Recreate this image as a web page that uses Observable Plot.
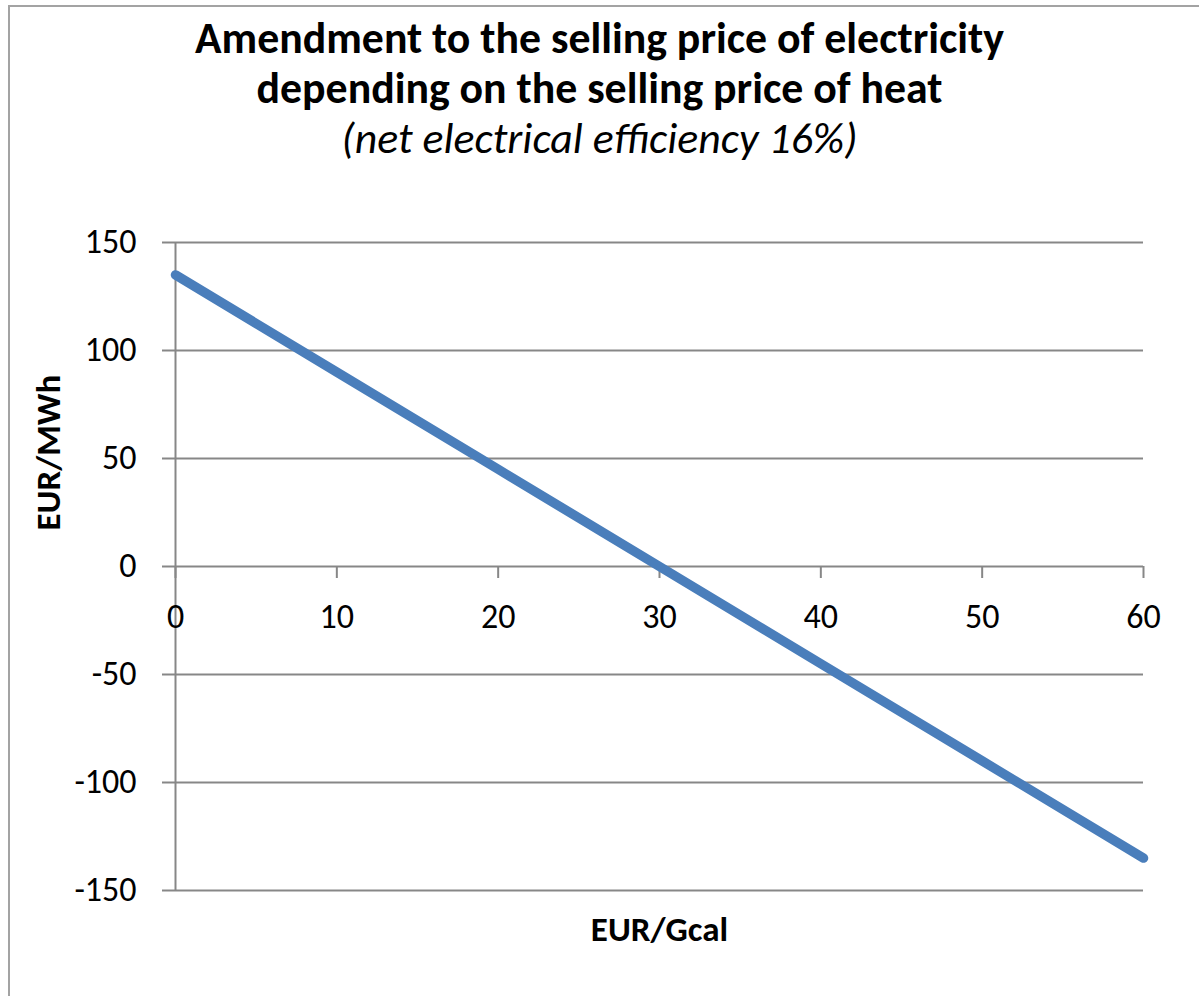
<!DOCTYPE html>
<html><head><meta charset="utf-8">
<script src="https://cdn.jsdelivr.net/npm/d3@7"></script>
<script src="https://cdn.jsdelivr.net/npm/@observablehq/plot@0.6"></script>
<style>
html,body{margin:0;padding:0;background:#fff;overflow:hidden;width:1199px;height:996px}
#wrap{position:relative;width:1199px;height:996px;overflow:hidden}
#border{position:absolute;left:8px;top:5px;width:1400px;height:1200px;border:2px solid #a3a3a3;box-sizing:border-box}
#title{position:absolute;left:0;top:0;width:1199px;height:200px;text-align:center;font-family:Carlito,Lato,"Open Sans",sans-serif;padding-top:13px;box-sizing:border-box;color:#000}
.t{font-size:43.8px;line-height:50px;font-weight:bold;white-space:nowrap}
.s{font-style:italic;font-weight:normal}
#chart{position:absolute;left:0;top:200px}
</style></head>
<body>
<div id="wrap">
<div id="border"></div>
<div id="title">
<div class="t">Amendment to the selling price of electricity</div>
<div class="t">depending on the selling price of heat</div>
<div class="t s">(net electrical efficiency 16%)</div>
</div>
<div id="chart"></div>
</div>
<script>
const xValues = [0, 10, 20, 30, 40, 50, 60];
const yValues = [135, 90, 45, 0, -45, -90, -135];
const xTicks = [0, 10, 20, 30, 40, 50, 60];
const yTicks = [-150, -100, -50, 0, 50, 100, 150];
const xTitle = "EUR/Gcal";
const yTitle = "EUR/MWh";

const data = xValues.map((x, i) => ({x, y: yValues[i]}));
const grid = "#878787";
const font = "Carlito, Lato, 'Open Sans', sans-serif";

const chart = Plot.plot({
  width: 1199,
  height: 796,
  marginTop: 42,
  marginBottom: 106,
  marginLeft: 175,
  marginRight: 56,
  style: {fontFamily: font, background: "transparent", color: "#000", overflow: "visible"},
  x: {domain: [xTicks[0], xTicks[xTicks.length - 1]], axis: null},
  y: {domain: [yTicks[0], yTicks[yTicks.length - 1]], axis: null},
  marks: [
    Plot.ruleY(yTicks, {stroke: grid, strokeWidth: 2, insetLeft: -13}),
    Plot.ruleX([xTicks[0]], {y1: yTicks[0], y2: yTicks[yTicks.length - 1], stroke: grid, strokeWidth: 2}),
    Plot.ruleX(xTicks, {y1: 0, y2: 0, insetBottom: -12, stroke: grid, strokeWidth: 2}),
    Plot.line(data, {x: "x", y: "y", stroke: "#4a7ebb", strokeWidth: 9.5, strokeLinecap: "round", strokeLinejoin: "round"}),
    Plot.text(yTicks, {frameAnchor: "left", y: d => d, text: d => String(d), textAnchor: "end", dx: -39, fontSize: 34, fill: "#000"}),
    Plot.text(xTicks, {x: d => d, y: 0, text: d => String(d), dy: 51, fontSize: 34, fill: "#000"}),
    Plot.text([yTitle], {frameAnchor: "left", text: d => d, rotate: -90, dx: -127, dy: -36, fontSize: 35, fontWeight: "bold", fill: "#000"}),
    Plot.text([xTitle], {frameAnchor: "bottom", text: d => d, dy: 50, fontSize: 35, fontWeight: "bold", fill: "#000"})
  ]
});
document.getElementById("chart").appendChild(chart);
</script>
</body></html>
